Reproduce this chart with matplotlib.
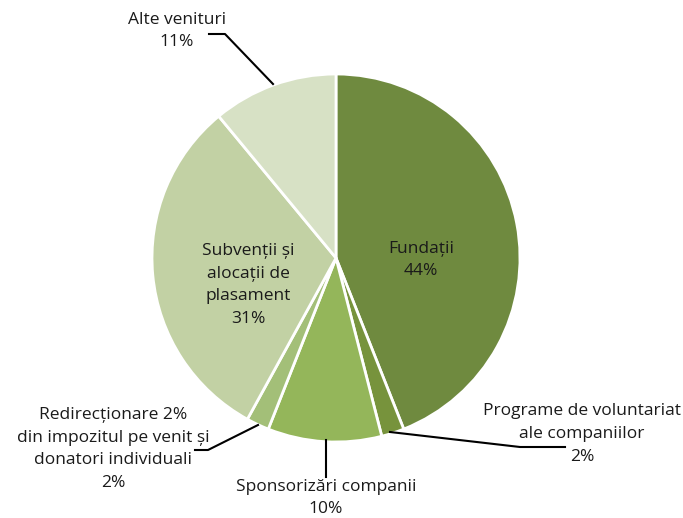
import matplotlib.pyplot as plt

labels = ["Fundații", "Programe de voluntariat\nale companiilor", "Sponsorizări companii",
          "Redirecționare 2%\ndin impozitul pe venit și\ndonatori individuali",
          "Subvenții și\nalocații de\nplasament", "Alte venituri"]
shares = [44, 2, 10, 2, 31, 11]
colors = ["#6f8a3f", "#77933c", "#94b65a", "#a3bf78", "#c2d1a4", "#d7e1c5"]

W, H = 683, 518
plt.rcParams['font.family'] = ['Open Sans', 'DejaVu Sans']

fig = plt.figure(figsize=(W / 100, H / 100), dpi=100)
ax = fig.add_axes([0, 0, 1, 1])


def py(y):
    # pixel row (from top) to data y
    return H - y


ax.pie(shares, colors=colors, startangle=90, counterclock=False,
       center=(336, py(258)), radius=184, frame=True,
       wedgeprops=dict(edgecolor='white', linewidth=2))
ax.set_xlim(0, W)
ax.set_ylim(0, H)
ax.set_aspect('equal')
ax.axis('off')

fs = 12.5
txt = dict(fontsize=fs, color='#1a1a1a', ha='center', va='center', linespacing=1.55)

# inside labels
ax.text(421, py(260), f"{labels[0]}\n{shares[0]}%", **txt)
ax.text(248, py(285), f"{labels[4]}\n{shares[4]}%", **txt)

# outside labels
ax.text(582, py(434), f"{labels[1]}\n{shares[1]}%", **txt)
ax.text(326, py(498), f"{labels[2]}\n{shares[2]}%", **txt)
ax.text(113, py(449), f"{labels[3]}\n{shares[3]}%", **txt)
ax.text(177, py(31), f"{labels[5]}\n{shares[5]}%", **txt)

# leader lines
lk = dict(color='black', linewidth=1.5)
ax.plot([273, 225, 209], [py(84), py(34), py(34)], **lk)
ax.plot([390, 520, 565], [py(432), py(447), py(447)], **lk)
ax.plot([258, 208, 195], [py(425), py(450), py(450)], **lk)
ax.plot([326, 326], [py(440), py(477)], **lk)

fig.savefig('out.png', dpi=100, facecolor='white')
